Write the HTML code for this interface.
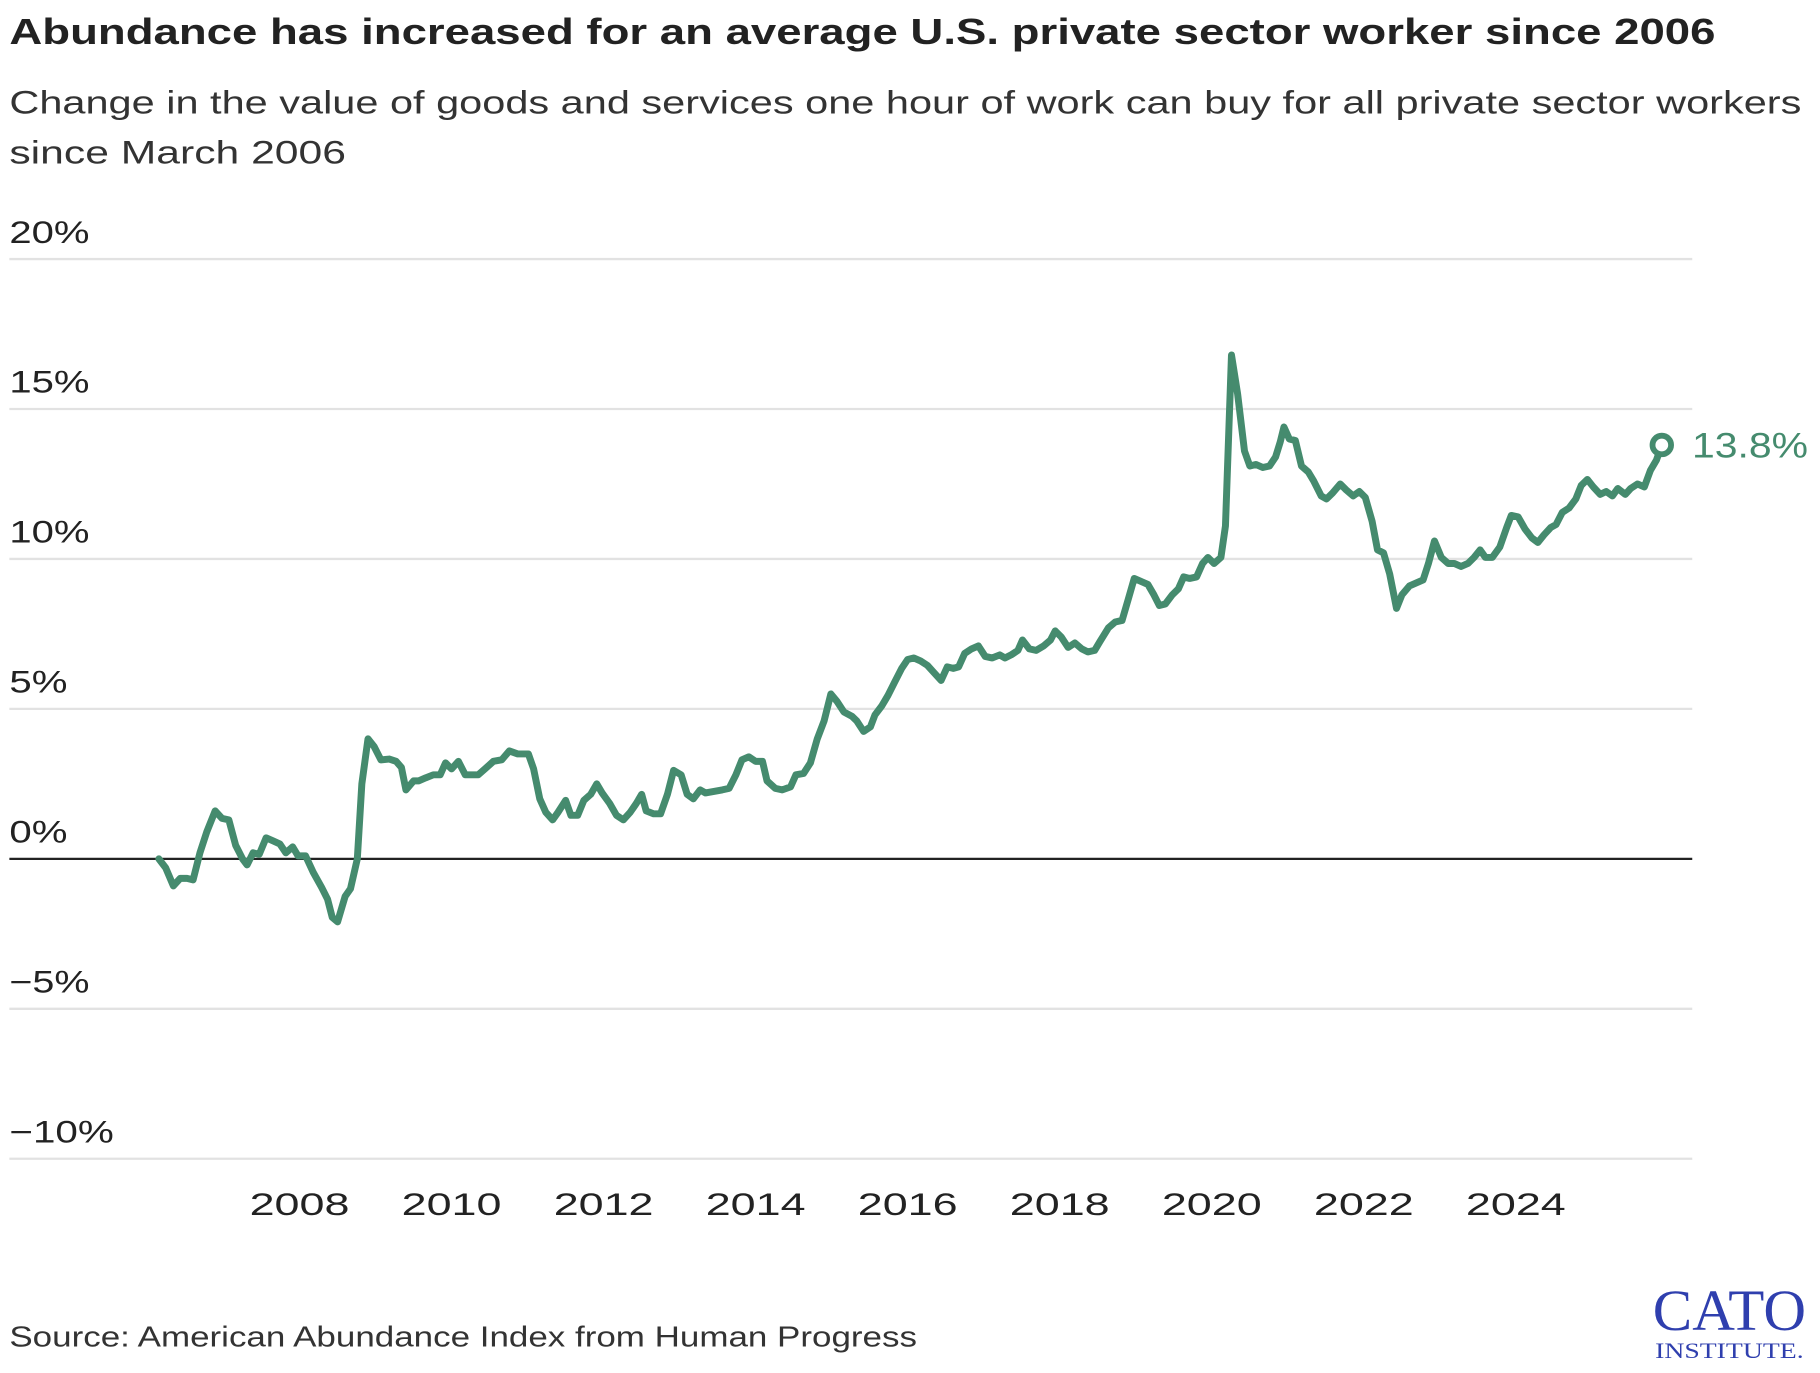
<!DOCTYPE html>
<html><head><meta charset="utf-8"><style>
html,body{margin:0;padding:0;background:#fff;}
svg{display:block;}
text{font-family:"Liberation Sans",sans-serif;}
</style></head><body>
<svg width="1820" height="1373" viewBox="0 0 1568 1183">
<text x="8" y="38" font-size="31" font-weight="bold" fill="#222" textLength="1470" lengthAdjust="spacingAndGlyphs">Abundance has increased for an average U.S. private sector worker since 2006</text>
<text x="8" y="98" font-size="28" fill="#333" textLength="1544" lengthAdjust="spacingAndGlyphs">Change in the value of goods and services one hour of work can buy for all private sector workers</text>
<text x="8" y="141" font-size="28" fill="#333" textLength="290" lengthAdjust="spacingAndGlyphs">since March 2006</text>
<g id="grid"></g><g id="xaxis"></g><g id="series"></g>
<text x="8" y="1160" font-size="25" fill="#333" textLength="782" lengthAdjust="spacingAndGlyphs">Source: American Abundance Index from Human Progress</text>
<g>
<text x="1490" y="1146" style="font-family:'Liberation Serif',serif" font-size="50" fill="#2f3fae" text-anchor="middle" textLength="132" lengthAdjust="spacingAndGlyphs">CATO</text>
<text x="1490" y="1170" style="font-family:'Liberation Serif',serif" font-size="19" fill="#2f3fae" text-anchor="middle" textLength="128" lengthAdjust="spacingAndGlyphs">INSTITUTE.</text>
</g>
</svg>
<script>
const yTicks=[20,15,10,5,0,-5,-10];
const yTickLabels=["20%","15%","10%","5%","0%","\u22125%","\u221210%"];
const yLabelWidths=[69,69,69,50,50,69,90];
const xTicks=[2008,2010,2012,2014,2016,2018,2020,2022,2024];
const dates=[2006.15,2006.24,2006.34,2006.43,2006.52,2006.60,2006.69,2006.78,2006.89,2006.98,2007.07,2007.16,2007.25,2007.31,2007.39,2007.47,2007.56,2007.65,2007.74,2007.82,2007.91,2007.98,2008.08,2008.18,2008.29,2008.37,2008.43,2008.50,2008.60,2008.67,2008.76,2008.82,2008.90,2008.98,2009.07,2009.18,2009.27,2009.34,2009.40,2009.50,2009.57,2009.66,2009.76,2009.85,2009.92,2010.00,2010.09,2010.18,2010.29,2010.35,2010.44,2010.55,2010.66,2010.76,2010.87,2011.01,2011.08,2011.16,2011.24,2011.33,2011.40,2011.50,2011.57,2011.66,2011.74,2011.83,2011.91,2011.98,2012.08,2012.17,2012.26,2012.35,2012.43,2012.50,2012.56,2012.66,2012.75,2012.84,2012.92,2013.02,2013.10,2013.18,2013.27,2013.34,2013.45,2013.56,2013.65,2013.74,2013.82,2013.91,2014.00,2014.09,2014.15,2014.26,2014.35,2014.46,2014.53,2014.63,2014.72,2014.81,2014.90,2014.99,2015.07,2015.16,2015.27,2015.33,2015.42,2015.51,2015.57,2015.66,2015.74,2015.83,2015.92,2016.00,2016.08,2016.17,2016.26,2016.35,2016.44,2016.52,2016.60,2016.67,2016.75,2016.84,2016.93,2017.02,2017.11,2017.21,2017.28,2017.36,2017.45,2017.51,2017.60,2017.69,2017.79,2017.88,2017.94,2018.02,2018.11,2018.20,2018.29,2018.37,2018.46,2018.53,2018.64,2018.73,2018.82,2018.90,2018.98,2019.07,2019.16,2019.24,2019.31,2019.39,2019.48,2019.56,2019.63,2019.71,2019.80,2019.88,2019.95,2020.03,2020.12,2020.18,2020.26,2020.34,2020.43,2020.50,2020.58,2020.67,2020.76,2020.84,2020.90,2020.95,2021.02,2021.10,2021.18,2021.27,2021.34,2021.44,2021.51,2021.59,2021.69,2021.77,2021.86,2021.94,2022.02,2022.11,2022.18,2022.26,2022.34,2022.43,2022.50,2022.60,2022.69,2022.78,2022.85,2022.93,2023.02,2023.11,2023.19,2023.28,2023.37,2023.45,2023.53,2023.60,2023.69,2023.79,2023.88,2023.94,2024.03,2024.12,2024.21,2024.29,2024.37,2024.46,2024.53,2024.61,2024.70,2024.79,2024.86,2024.94,2025.02,2025.11,2025.19,2025.27,2025.34,2025.44,2025.51,2025.60,2025.69,2025.77,2025.85,2025.92];
const values=[0,-0.3,-0.9,-0.65,-0.65,-0.7,0.2,0.9,1.6,1.35,1.3,0.45,0,-0.2,0.2,0.15,0.7,0.6,0.5,0.2,0.4,0.1,0.1,-0.45,-0.95,-1.35,-1.95,-2.1,-1.25,-1.0,0,2.5,4.0,3.75,3.3,3.33,3.25,3.05,2.3,2.6,2.6,2.7,2.8,2.8,3.2,3.0,3.25,2.8,2.8,2.8,3.0,3.25,3.3,3.6,3.5,3.5,3.0,2.0,1.55,1.3,1.55,1.95,1.45,1.45,1.95,2.15,2.5,2.2,1.85,1.45,1.3,1.55,1.85,2.15,1.6,1.5,1.5,2.15,2.95,2.8,2.15,2.0,2.3,2.2,2.25,2.3,2.35,2.8,3.3,3.4,3.25,3.25,2.6,2.35,2.3,2.4,2.8,2.85,3.2,4.0,4.6,5.5,5.25,4.9,4.75,4.6,4.25,4.4,4.8,5.1,5.45,5.9,6.35,6.65,6.7,6.6,6.45,6.2,5.95,6.4,6.35,6.4,6.85,7.0,7.1,6.75,6.7,6.8,6.7,6.8,6.95,7.3,7.0,6.95,7.1,7.3,7.6,7.4,7.05,7.2,7.0,6.9,6.95,7.25,7.7,7.9,7.95,8.65,9.35,9.25,9.15,8.8,8.45,8.5,8.8,9.0,9.4,9.35,9.4,9.85,10.05,9.85,10.05,11.1,16.8,15.5,13.6,13.1,13.15,13.05,13.1,13.4,13.9,14.4,14.0,13.95,13.1,12.9,12.6,12.1,12.0,12.2,12.5,12.3,12.1,12.25,12.05,11.25,10.3,10.2,9.5,8.35,8.8,9.1,9.2,9.3,9.85,10.6,10.05,9.85,9.85,9.75,9.85,10.05,10.3,10.05,10.05,10.4,11.05,11.45,11.4,11.0,10.7,10.55,10.8,11.05,11.15,11.55,11.7,12.0,12.45,12.65,12.4,12.15,12.25,12.1,12.35,12.15,12.35,12.5,12.4,12.95,13.3,13.8];
const endLabel="13.8%";

const NS="http://www.w3.org/2000/svg";
const L=8,R=1458;
function yS(v){return 740-v*25.84;}
function xS(t){return 258+(t-2008)*65.5;}
function mk(tag,attrs,parent){const e=document.createElementNS(NS,tag);for(const k in attrs)e.setAttribute(k,attrs[k]);parent.appendChild(e);return e;}
const grid=document.getElementById('grid');
yTicks.forEach((v,i)=>{
  const ln=mk('line',{x1:L,x2:R,y1:yS(v),y2:yS(v),stroke:v===0?'#222':'#e2e2e2','stroke-width':2},grid);
  
  
  const t=mk('text',{x:8,y:yS(v)-14,'font-size':27,fill:'#222',textLength:yLabelWidths[i],lengthAdjust:'spacingAndGlyphs'},grid);
  t.textContent=yTickLabels[i];
  
  
});
const xa=document.getElementById('xaxis');
xTicks.forEach(yr=>{
  const t=mk('text',{x:xS(yr),y:1047,'font-size':27,fill:'#222','text-anchor':'middle',textLength:86,lengthAdjust:'spacingAndGlyphs'},xa);
  t.textContent=yr;
  
  
});
const s=document.getElementById('series');
const d=dates.map((t,i)=>(i?'L':'M')+xS(t).toFixed(1)+' '+yS(values[i]).toFixed(1)).join(' ');
const p=mk('path',{d:d,fill:'none',stroke:'#458b6e','stroke-width':6,'stroke-linejoin':'round','stroke-linecap':'round'},s);


const n=dates.length-1;
const c=mk('circle',{cx:xS(dates[n]),cy:yS(values[n]),r:8,fill:'#fff',stroke:'#458b6e','stroke-width':5},s);


const lt=mk('text',{x:xS(dates[n])+26,y:yS(values[n])+11,'font-size':30,fill:'#458b6e',textLength:100,lengthAdjust:'spacingAndGlyphs'},s);
lt.textContent=endLabel;


</script>
</body></html>
